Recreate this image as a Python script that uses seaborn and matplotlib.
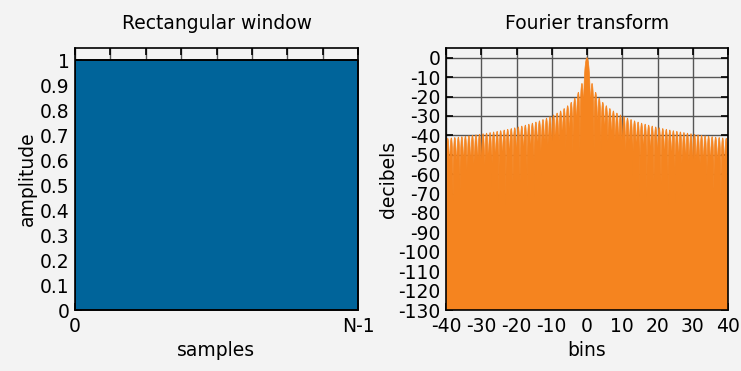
import numpy as np
import matplotlib
matplotlib.use("Agg")
import matplotlib.pyplot as plt
import seaborn as sns

# Window samples: constant amplitude over N points
window_length = 255
window_amplitude = [1.0] * window_length
sample_tick_labels = ["0", "", "", "", "", "", "", "", "N-1"]
amp_ticks = [0, 0.1, 0.2, 0.3, 0.4, 0.5, 0.6, 0.7, 0.8, 0.9, 1]
amp_tick_labels = ["0", "0.1", "0.2", "0.3", "0.4", "0.5", "0.6", "0.7", "0.8", "0.9", "1"]
bin_ticks = [-40, -30, -20, -10, 0, 10, 20, 30, 40]
db_ticks = [0, -10, -20, -30, -40, -50, -60, -70, -80, -90, -100, -110, -120, -130]

# Zero-padded DFT of the window samples, in dB relative to the peak
fft_size = 8192
window = np.asarray(window_amplitude)
spectrum = np.fft.fftshift(np.fft.fft(window, fft_size))
mag = np.abs(spectrum)
bins = (np.arange(fft_size) - fft_size // 2) * window_length / fft_size
db = 20 * np.log10(np.maximum(mag / mag.max(), 1e-12))
keep = np.abs(bins) <= 40.2
bins, db = bins[keep], np.maximum(db[keep], -130)

sns.set_theme(style="ticks")
bg = "#f3f3f3"
fs = 13.5
plt.rcParams.update({
    "font.family": ["DejaVu Sans"],
    "font.size": fs,
    "axes.unicode_minus": False,
    "axes.edgecolor": "black",
    "axes.linewidth": 1.2,
    "xtick.color": "black",
    "ytick.color": "black",
    "text.color": "black",
    "axes.labelcolor": "black",
})

blue = "#00649a"
orange = "#f5841f"

fig = plt.figure(figsize=(7.41, 3.71), dpi=100, facecolor=bg)
ax1 = fig.add_axes([75 / 741, 1 - 310 / 371, 283 / 741, 262 / 371])
ax2 = fig.add_axes([446 / 741, 1 - 310 / 371, 282 / 741, 262 / 371])

# Rectangular window panel
n = np.arange(window_length)
ax1.set_facecolor(bg)
sns.lineplot(x=n, y=window, ax=ax1, color="black", linewidth=1.2, zorder=4)
ax1.fill_between(n, 0, window, facecolor=blue, edgecolor="black", linewidth=1.2, zorder=3)
ax1.set_xlim(0, window_length - 1)
ax1.set_ylim(0, 1.05)
ax1.set_xticks(np.linspace(0, window_length - 1, 9))
ax1.set_xticklabels(sample_tick_labels)
ax1.set_yticks(amp_ticks)
ax1.set_yticklabels(amp_tick_labels)
ax1.grid(True, axis="x", color="#555555", linewidth=1.0, zorder=0)
ax1.tick_params(direction="in", length=5, width=1.2, top=True, right=True, pad=4, labelsize=fs)
ax1.tick_params(axis="x", pad=5)
ax1.set_title("Rectangular window", fontsize=fs, pad=14)
ax1.set_xlabel("samples", fontsize=fs, labelpad=4)
ax1.set_ylabel("amplitude", fontsize=fs, labelpad=2)

# Fourier transform panel
ax2.set_facecolor(bg)
ax2.fill_between(bins, -130, db, facecolor=orange, edgecolor="none", linewidth=0, zorder=3)
sns.lineplot(x=bins, y=db, ax=ax2, color=orange, linewidth=0.5, zorder=3)
ax2.set_xlim(-40, 40)
ax2.set_ylim(-130, 5)
ax2.set_xticks(bin_ticks)
ax2.set_yticks(db_ticks)
ax2.grid(True, color="#555555", linewidth=1.0, zorder=0)
ax2.tick_params(direction="in", length=5, width=1.2, top=True, right=True, pad=4, labelsize=fs)
ax2.tick_params(axis="x", pad=5)
ax2.set_title("Fourier transform", fontsize=fs, pad=14)
ax2.set_xlabel("bins", fontsize=fs, labelpad=4)
ax2.set_ylabel("decibels", fontsize=fs, labelpad=0)
for sp in list(ax1.spines.values()) + list(ax2.spines.values()):
    sp.set_zorder(5)

fig.savefig("out.png", dpi=100, facecolor=bg)
